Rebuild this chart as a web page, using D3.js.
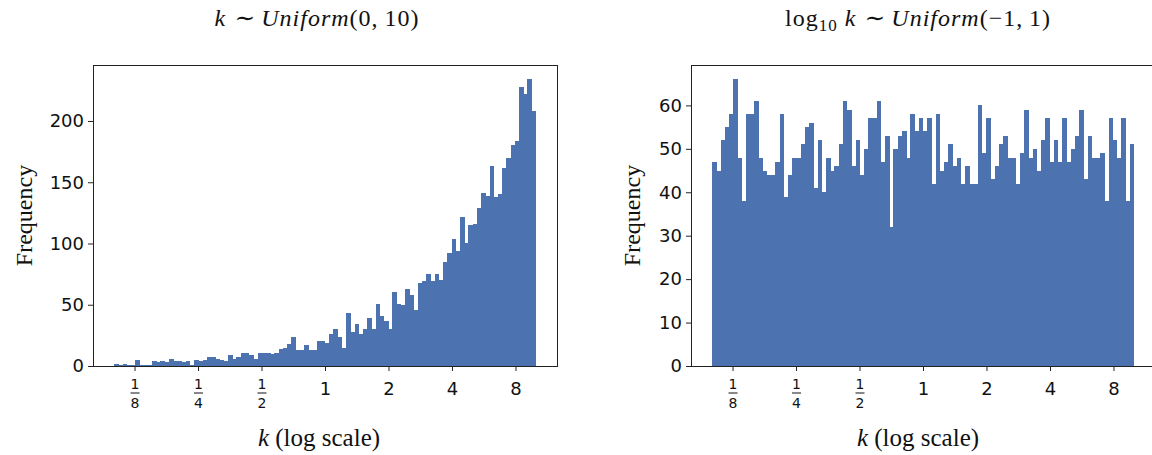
<!DOCTYPE html>
<html>
<head>
<meta charset="utf-8">
<script src="https://cdn.jsdelivr.net/npm/d3@7"></script>
<style>
  html, body { margin: 0; padding: 0; background: #fff; }
  svg { display: block; }
  .tick text { font-family: "DejaVu Sans", sans-serif; }
</style>
</head>
<body>
<svg id="chart" width="1152" height="455"></svg>
<script>
// Histogram range and bin count (log-spaced bins between 0.1 and 10)
const binRange = [0.1, 10];

// Counts per bin: k drawn uniformly on (0, 10)
const linearCounts = [
  2, 1, 2, 1, 1, 5, 1, 1, 1, 4,
  3, 4, 3, 6, 4, 4, 3, 4, 1, 5,
  4, 5, 7, 7, 6, 5, 4, 9, 6, 7,
  11, 11, 9, 6, 11, 11, 11, 10, 11, 14,
  15, 18, 24, 13, 13, 17, 13, 13, 20, 20,
  19, 26, 30, 24, 15, 43, 28, 34, 26, 30,
  39, 30, 51, 41, 37, 30, 60, 51, 50, 63,
  58, 46, 68, 69, 75, 69, 75, 70, 85, 92,
  104, 94, 122, 100, 115, 116, 129, 141, 139, 163,
  138, 140, 162, 170, 180, 184, 228, 222, 234, 208
];

// Counts per bin: log10 k drawn uniformly on (-1, 1)
const logCounts = [
  47, 45, 52, 55, 58, 66, 48, 38, 58, 58,
  61, 48, 45, 44, 44, 47, 58, 39, 44, 48,
  48, 51, 55, 56, 41, 52, 40, 48, 45, 46,
  51, 61, 59, 46, 52, 44, 50, 57, 57, 61,
  47, 53, 32, 50, 53, 54, 48, 58, 54, 57,
  54, 57, 42, 58, 45, 47, 51, 46, 48, 42,
  46, 42, 42, 60, 49, 57, 43, 46, 51, 53,
  48, 48, 42, 49, 59, 48, 50, 45, 52, 57,
  47, 52, 47, 57, 47, 50, 53, 59, 43, 53,
  48, 48, 49, 38, 57, 52, 48, 57, 38, 51
];

// x tick values and their labels
const xTickValues = [0.125, 0.25, 0.5, 1, 2, 4, 8];
const xTickLabels = [[1, 8], [1, 4], [1, 2], "1", "2", "4", "8"];

// y ticks for each panel
const yTicksLinear = [0, 50, 100, 150, 200];
const yTicksLog = [0, 10, 20, 30, 40, 50, 60];

const barColor = "#4c72b0";
const svg = d3.select("#chart");

function drawPanel(opts) {
  const { counts, left, right, top, bottom, yTicks, title, titleX, labelX, yLabelX } = opts;
  const g = svg.append("g");

  // log-scale x with 5% (in log space) padding beyond the bin range
  const lo = Math.log10(binRange[0]), hi = Math.log10(binRange[1]);
  const pad = (hi - lo) * 0.05;
  const x = d3.scaleLog().domain([10 ** (lo - pad), 10 ** (hi + pad)]).range([left, right]);
  const y = d3.scaleLinear().domain([0, d3.max(counts) * 1.05]).range([bottom, top]);

  // bin edges evenly spaced in log space
  const n = counts.length;
  const edgeScale = d3.scaleLog().domain(binRange).range([0, n]);
  const edges = d3.range(n + 1).map(i => edgeScale.invert(i));

  const bins = counts.map((c, i) => ({ x0: edges[i], x1: edges[i + 1], count: c }));

  g.append("g")
    .selectAll("rect")
    .data(bins)
    .join("rect")
    .attr("x", d => x(d.x0))
    .attr("width", d => x(d.x1) - x(d.x0) + 0.4)
    .attr("y", d => y(d.count))
    .attr("height", d => y(0) - y(d.count))
    .attr("fill", barColor)
    .attr("shape-rendering", "crispEdges");

  // frame
  g.append("rect")
    .attr("x", left).attr("y", top)
    .attr("width", right - left).attr("height", bottom - top)
    .attr("fill", "none").attr("stroke", "#222").attr("stroke-width", 1)
    .attr("shape-rendering", "crispEdges");

  // x axis
  const xAxis = g.append("g")
    .attr("transform", `translate(0,${bottom})`)
    .call(d3.axisBottom(x).tickValues(xTickValues).tickFormat("").tickSize(5).tickSizeOuter(0));
  xAxis.select(".domain").remove();
  xAxis.selectAll(".tick line").attr("stroke", "#222");
  xAxis.selectAll(".tick").each(function (d, i) {
    const lab = xTickLabels[i];
    const t = d3.select(this);
    if (Array.isArray(lab)) {
      t.append("text").attr("y", 23).attr("text-anchor", "middle")
        .attr("font-size", 14).attr("fill", "#111").text(lab[0]);
      t.append("line").attr("x1", -4.5).attr("x2", 4.5).attr("y1", 27).attr("y2", 27)
        .attr("stroke", "#111").attr("stroke-width", 1);
      t.append("text").attr("y", 42).attr("text-anchor", "middle")
        .attr("font-size", 14).attr("fill", "#111").text(lab[1]);
    } else {
      t.append("text").attr("y", 29).attr("text-anchor", "middle")
        .attr("font-size", 18).attr("fill", "#111").text(lab);
    }
  });

  // y axis
  const yAxis = g.append("g")
    .attr("transform", `translate(${left},0)`)
    .call(d3.axisLeft(y).tickValues(yTicks).tickSize(5).tickPadding(4).tickSizeOuter(0));
  yAxis.select(".domain").remove();
  yAxis.selectAll(".tick line").attr("stroke", "#222");
  yAxis.selectAll(".tick text").attr("font-size", 18).attr("fill", "#111");

  // title
  const tt = g.append("text")
    .attr("x", titleX).attr("y", 26)
    .attr("text-anchor", "middle")
    .attr("font-family", "Liberation Serif, serif")
    .attr("font-size", 24).attr("letter-spacing", 1).attr("fill", "#111");
  title.forEach(part => {
    const s = tt.append("tspan").text(part.text);
    if (part.italic) s.attr("font-style", "italic");
    if (part.sub) s.attr("font-size", 17).attr("dy", 5);
    if (part.unsub) s.attr("dy", -5);
  });

  // x label
  const xl = g.append("text")
    .attr("x", labelX).attr("y", 446)
    .attr("text-anchor", "middle")
    .attr("font-family", "Liberation Serif, serif")
    .attr("font-size", 25).attr("fill", "#111");
  xl.append("tspan").attr("font-style", "italic").text("k");
  xl.append("tspan").text(" (log scale)");

  // y label
  g.append("text")
    .attr("transform", `translate(${yLabelX},${(top + bottom) / 2}) rotate(-90)`)
    .attr("text-anchor", "middle")
    .attr("font-family", "Liberation Serif, serif")
    .attr("font-size", 24).attr("fill", "#111")
    .text("Frequency");
}

drawPanel({
  counts: linearCounts,
  left: 93, right: 557, top: 65, bottom: 366,
  yTicks: yTicksLinear,
  title: [
    { text: "k ∼ Uniform", italic: true },
    { text: "(0,\u200910)" }
  ],
  titleX: 317, labelX: 319, yLabelX: 32
});

drawPanel({
  counts: logCounts,
  left: 691, right: 1155, top: 65, bottom: 366,
  yTicks: yTicksLog,
  title: [
    { text: "log" },
    { text: "10", sub: true },
    { text: " k ∼ Uniform", italic: true, unsub: true },
    { text: "(−1,\u20091)" }
  ],
  titleX: 918, labelX: 918, yLabelX: 640
});
</script>
</body>
</html>
